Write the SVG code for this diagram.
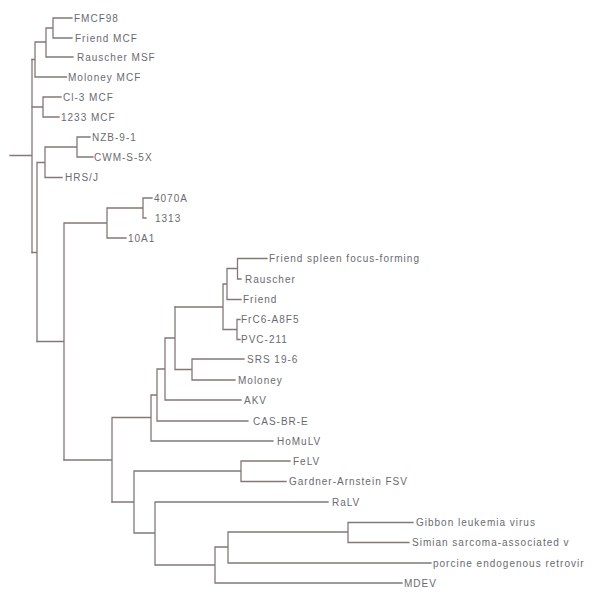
<svg xmlns="http://www.w3.org/2000/svg" width="600" height="600" viewBox="0 0 600 600">
<style>
.e{fill:none;stroke:#857777;stroke-width:1.3;stroke-linecap:square}
.t{font-family:"Liberation Sans","DejaVu Sans",sans-serif;font-size:10px;letter-spacing:1px;fill:#6a6a70}
</style>
<rect width="600" height="600" fill="#ffffff"/>
<g id="connectors" class="e">
<path d="M10,155.5H32 M32,59.5V252.5"/>
<path d="M32,59.5H35 M35,42V77 M35,77H66.5 M35,42H46 M46,28V57 M46,57H73 M46,28H53 M53,18V38 M53,18H72 M53,38H72"/>
<path d="M32,107H43 M43,97V117 M43,97H61 M43,117H59"/>
<path d="M32,252.5H37 M37,162.5V341.5 M37,162.5H45 M45,147V177.5 M45,177.5H62 M45,147H77 M77,137V157 M77,137H90 M77,157H93"/>
<path d="M37,341.5H64 M64,223V460 M64,223H107 M107,208V238 M107,238H126 M107,208H143 M143,198V218 M143,198H152 M143,218H146"/>
<path d="M64,460H112 M112,417.5V502 M112,417.5H151 M151,395V441 M151,441H273 M151,395H157 M157,369V421 M157,421H248 M157,369H165 M165,338V400 M165,400H241 M165,338H175 M175,307V369.5 M175,369.5H192 M192,359V380 M192,359H244 M192,380H235"/>
<path d="M175,307H223 M223,284V329.5 M223,329.5H237 M237,319.5V339.5 M237,319.5H240 M237,339.5H240 M223,284H227 M227,268.5V299.5 M227,299.5H241 M227,268.5H237.5 M237.5,258.5V279 M237.5,258.5H267 M237.5,279H241"/>
<path d="M112,502H134 M134,471V533 M134,471H241 M241,461V481.5 M241,461H290 M241,481.5H286 M134,533H155 M155,502V565 M155,502H328 M155,565H215 M215,547V583 M215,583H402 M215,547H228 M228,532V563 M228,563H431 M228,532H348 M348,522.5V542.5 M348,522.5H413 M348,542.5H409"/>
</g>
<g id="FMCF98"><text class="t" x="74" y="21.5">FMCF98</text></g>
<g id="FriendMCF"><text class="t" x="75" y="41.5">Friend MCF</text></g>
<g id="RauscherMSF"><text class="t" x="77" y="60.5">Rauscher MSF</text></g>
<g id="MoloneyMCF"><text class="t" x="68" y="80.5">Moloney MCF</text></g>
<g id="Cl3MCF"><text class="t" x="63" y="100.5">Cl-3 MCF</text></g>
<g id="MCF1233"><text class="t" x="61" y="120.5">1233 MCF</text></g>
<g id="NZB91"><text class="t" x="92" y="140.5">NZB-9-1</text></g>
<g id="CWMS5X"><text class="t" x="94" y="160.5">CWM-S-5X</text></g>
<g id="HRSJ"><text class="t" x="65" y="181">HRS/J</text></g>
<g id="n4070A"><text class="t" x="154" y="201.5">4070A</text></g>
<g id="n1313"><text class="t" x="155" y="221.5">1313</text></g>
<g id="n10A1"><text class="t" x="128" y="241.5">10A1</text></g>
<g id="FriendSFF"><text class="t" x="269" y="262">Friend spleen focus-forming</text></g>
<g id="Rauscher"><text class="t" x="245" y="282.5">Rauscher</text></g>
<g id="Friend"><text class="t" x="243" y="303">Friend</text></g>
<g id="FrC6A8F5"><text class="t" x="241" y="323">FrC6-A8F5</text></g>
<g id="PVC211"><text class="t" x="241" y="343">PVC-211</text></g>
<g id="SRS196"><text class="t" x="247" y="362.5">SRS 19-6</text></g>
<g id="Moloney"><text class="t" x="238" y="383.5">Moloney</text></g>
<g id="AKV"><text class="t" x="244" y="403.5">AKV</text></g>
<g id="CASBRE"><text class="t" x="253" y="424.5">CAS-BR-E</text></g>
<g id="HoMuLV"><text class="t" x="277" y="444.5">HoMuLV</text></g>
<g id="FeLV"><text class="t" x="293" y="464.5">FeLV</text></g>
<g id="GardnerArnstein"><text class="t" x="289" y="485">Gardner-Arnstein FSV</text></g>
<g id="RaLV"><text class="t" x="332" y="505.5">RaLV</text></g>
<g id="Gibbon"><text class="t" x="416" y="526">Gibbon leukemia virus</text></g>
<g id="Simian"><text class="t" x="412" y="546">Simian sarcoma-associated v</text></g>
<g id="Porcine"><text class="t" x="433" y="566.5">porcine endogenous retrovir</text></g>
<g id="MDEV"><text class="t" x="404" y="586.5">MDEV</text></g>
</svg>
